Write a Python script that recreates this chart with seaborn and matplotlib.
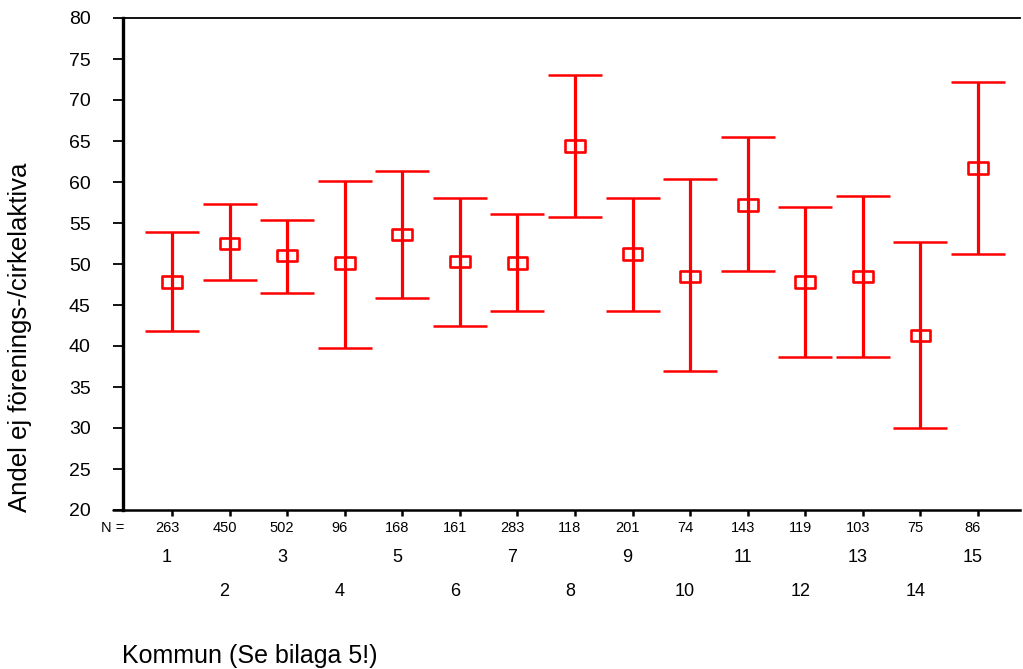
import matplotlib
matplotlib.use("Agg")
import matplotlib.pyplot as plt
import matplotlib.transforms as mtrans
from matplotlib.path import Path
from matplotlib.lines import Line2D
import seaborn as sns
import pandas as pd
import numpy as np

kommun = list(range(1, 16))
n_values = [263, 450, 502, 96, 168, 161, 283, 118, 201, 74, 143, 119, 103, 75, 86]
mean = [47.8, 52.5, 51.0, 50.1, 53.6, 50.3, 50.1, 64.4, 51.2, 48.5, 57.2, 47.8, 48.5, 41.3, 61.7]
upper = [53.9, 57.3, 55.4, 60.1, 61.3, 58.1, 56.1, 73.0, 58.1, 60.4, 65.5, 57.0, 58.3, 52.7, 72.2]
lower = [41.8, 48.1, 46.5, 39.8, 45.8, 42.5, 44.3, 55.7, 44.3, 36.9, 49.1, 38.7, 38.7, 30.0, 51.2]
y_ticks = list(range(20, 85, 5))

df = pd.DataFrame({"kommun": kommun, "mean": mean, "upper": upper, "lower": lower, "n": n_values})

sns.set_style("white")
plt.rcParams["font.family"] = ["Liberation Sans", "DejaVu Sans"]
plt.rcParams["text.color"] = "black"
plt.rcParams["xtick.color"] = "black"
plt.rcParams["ytick.color"] = "black"
plt.rcParams["axes.labelcolor"] = "black"

W, H = 1023, 669
fig = plt.figure(figsize=(W / 100, H / 100), dpi=100)
ax = fig.add_axes([123 / W, 1 - 510 / H, (1020 - 123) / W, (510 - 18) / H])

red = "#FF0000"
yerr = np.vstack([df["mean"] - df["lower"], df["upper"] - df["mean"]])
ax.errorbar(df["kommun"], df["mean"], yerr=yerr, fmt="none", ecolor=red,
            elinewidth=2.3, capsize=19.5, capthick=1.8, zorder=2)

rect = Path([(-1, -0.58), (1, -0.58), (1, 0.58), (-1, 0.58), (-1, -0.58)],
            [Path.MOVETO, Path.LINETO, Path.LINETO, Path.LINETO, Path.CLOSEPOLY])
sns.scatterplot(data=df, x="kommun", y="mean", ax=ax, marker=rect, s=200,
                facecolor="none", edgecolor=red, linewidth=1.9, zorder=3, legend=False)

ax.set_xlim(0.149, 15.73)
ax.set_ylim(20, 80)
ax.set_yticks(y_ticks)
ax.set_yticklabels([str(v) for v in y_ticks], fontsize=14, color="black")
ax.set_xticks(kommun)
ax.set_xticklabels([])
ax.set_xlabel("")
ax.set_ylabel("")

ax.tick_params(axis="y", direction="out", length=7.2, width=1.3, pad=16, color="black",
               left=True)
ax.tick_params(axis="x", direction="out", length=4, width=1.8, color="black", bottom=True)

ax.spines["right"].set_visible(False)
ax.spines["left"].set_linewidth(2.4)
ax.spines["left"].set_color("black")
ax.spines["bottom"].set_linewidth(1.8)
ax.spines["bottom"].set_color("black")
ax.spines["top"].set_linewidth(1.3)
ax.spines["top"].set_color("black")

# bottom axis line extending left past the left spine
fig.add_artist(Line2D([113 / W, 123 / W], [1 - 510 / H, 1 - 510 / H],
                      color="black", linewidth=1.8, transform=fig.transFigure))

# N row and category labels
trans = ax.get_xaxis_transform()
off = mtrans.ScaledTranslation(-5 / 100, 0, fig.dpi_scale_trans)
for k, n in zip(df["kommun"], df["n"]):
    ax.text(k, -18 / 492, str(n), transform=trans + off, ha="center", va="center",
            fontsize=10.5, color="black", clip_on=False)
    yrow = -48 / 492 if k % 2 == 1 else -81 / 492
    ax.text(k, yrow, str(k), transform=trans + off, ha="center", va="center",
            fontsize=13, color="black", clip_on=False)

fig.text(113 / W, 1 - 528 / H, "N =", ha="center", va="center", fontsize=10.5, color="black")

fig.text(20 / W, 1 - 337 / H, "Andel ej förenings-/cirkelaktiva", rotation=90,
         ha="center", va="center", fontsize=18.5, color="black")
fig.text(122 / W, 1 - 656 / H, "Kommun (Se bilaga 5!)", ha="left", va="center",
         fontsize=18, color="black")

fig.savefig("out.png", dpi=100)
